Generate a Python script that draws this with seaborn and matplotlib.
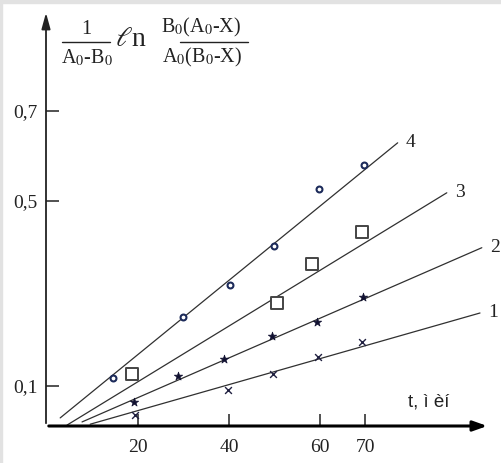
import numpy as np
import pandas as pd
import matplotlib
matplotlib.use("Agg")
import matplotlib.pyplot as plt
import seaborn as sns
from matplotlib.lines import Line2D
from matplotlib.patches import Rectangle

# ---- data ----
t1 = [19.3, 39.8, 49.7, 59.6, 69.2]
y1 = [0.024, 0.080, 0.116, 0.153, 0.187]
t2 = [19.1, 28.8, 38.9, 49.5, 59.3, 69.5]
y2 = [0.053, 0.111, 0.149, 0.200, 0.231, 0.287]
t3 = [18.7, 50.5, 58.2, 69.2]
y3 = [0.116, 0.273, 0.360, 0.431]
t4 = [14.5, 29.9, 40.2, 49.9, 59.8, 69.7]
y4 = [0.107, 0.242, 0.313, 0.400, 0.527, 0.580]

# straight lines drawn through each series (start / end)
line_t = {"1": [9.5, 95.2], "2": [7.7, 95.6], "3": [4.4, 87.9], "4": [2.9, 77.1]}
line_y = {"1": [0.004, 0.251], "2": [0.009, 0.396], "3": [0.002, 0.518], "4": [0.018, 0.629]}
curve_labels = ["1", "2", "3", "4"]

xtick_vals = [20, 40, 60, 70]
xtick_labels = ["20", "40", "60", "70"]
ytick_vals = [0.089, 0.5, 0.7]
ytick_labels = ["0,1", "0,5", "0,7"]
xlabel = "t, ì èí"

sns.set_theme(style="white")
plt.rcParams["font.family"] = ["Liberation Serif", "DejaVu Serif"]
plt.rcParams["mathtext.fontset"] = "stix"

W, H = 501, 463
fig = plt.figure(figsize=(W / 100, H / 100), dpi=100)
fig.patch.set_facecolor("white")
# light grey frame on top and left edges
fig.patches.append(Rectangle((0, 1 - 3 / H), 1, 3 / H, transform=fig.transFigure,
                             color="#e2e2e2", zorder=0))
fig.patches.append(Rectangle((0, 0), 2 / W, 1, transform=fig.transFigure,
                             color="#e2e2e2", zorder=0))

# axes in pixel terms: left 46, right 490, top 10, bottom 426
ax = fig.add_axes([46 / W, (H - 426) / H, (490 - 46) / W, (426 - 10) / H])
ax.set_facecolor("white")
ax.set_xlim(-0.22, 97.4)
ax.set_ylim(0, 0.924)
for s in ax.spines.values():
    s.set_visible(False)

lc = "#303030"
for k in curve_labels:
    df = pd.DataFrame({"t": line_t[k], "y": line_y[k]})
    sns.lineplot(data=df, x="t", y="y", ax=ax, color=lc, lw=0.9, sort=False)

d1 = pd.DataFrame({"t": t1, "y": y1})
d2 = pd.DataFrame({"t": t2, "y": y2})
d3 = pd.DataFrame({"t": t3, "y": y3})
d4 = pd.DataFrame({"t": t4, "y": y4})
sns.scatterplot(data=d1, x="t", y="y", ax=ax, marker="x", s=24, color="#202040",
                linewidth=1.0, zorder=5)
sns.scatterplot(data=d2, x="t", y="y", ax=ax, marker="*", s=40, color="#101030",
                edgecolor="#101030", linewidth=0.5, zorder=5)
sns.scatterplot(data=d3, x="t", y="y", ax=ax, marker="s", s=78, facecolor="white",
                edgecolor="#444444", linewidth=1.4, zorder=5)
sns.scatterplot(data=d4, x="t", y="y", ax=ax, marker="o", s=18, facecolor="white",
                edgecolor="#1c2a5a", linewidth=1.5, zorder=5)

# curve number labels
for k in curve_labels:
    ax.text(line_t[k][1] + 1.8, line_y[k][1], k, fontsize=14, color="#222222",
            ha="left", va="center")

# axes with arrows
ax.annotate("", xy=(1.0, 0), xytext=(0, 0), xycoords="axes fraction",
            arrowprops=dict(arrowstyle="-|>,head_length=0.7,head_width=0.25",
                            color="black", lw=2.2), annotation_clip=False)
ax.annotate("", xy=(0, 1.0), xytext=(0, 0), xycoords="axes fraction",
            arrowprops=dict(arrowstyle="-|>,head_length=0.8,head_width=0.22",
                            color="#222222", lw=1.3), annotation_clip=False)

ax.set_xticks(xtick_vals)
ax.set_xticklabels(xtick_labels)
ax.set_yticks(ytick_vals)
ax.set_yticklabels(ytick_labels)
ax.tick_params(axis="x", direction="in", length=9, width=1.1, color="#222222",
               labelsize=14, pad=9, labelcolor="#222222", bottom=True)
ax.tick_params(axis="y", direction="in", length=9, width=1.1, color="#222222",
               labelsize=14, pad=6, labelcolor="#222222", left=True)
ax.set_xlabel("")
ax.set_ylabel("")

ax.text(79.3, 0.053, xlabel, fontsize=13.5, family=["Liberation Sans", "DejaVu Sans"],
        color="#222222", ha="left", va="center")

# y-axis quantity written as formula
def fx(px):
    return px / W

def fy(py):
    return 1 - py / H

tc = "#222222"
fs = 14.5
fig.text(fx(86), fy(30), "1", fontsize=fs, ha="center", va="center", color=tc)
fig.lines.append(Line2D([fx(62), fx(110)], [fy(42), fy(42)], transform=fig.transFigure,
                        color=tc, lw=1.0))
fig.text(fx(87), fy(58), r"A$_0$-B$_0$", fontsize=fs, ha="center", va="center", color=tc)
fig.text(fx(131), fy(40), r"$\ell$n", fontsize=20, ha="center", va="center", color=tc)
fig.text(fx(201), fy(27), r"B$_0$(A$_0$-X)", fontsize=fs, ha="center", va="center", color=tc)
fig.lines.append(Line2D([fx(180), fx(248)], [fy(42), fy(42)], transform=fig.transFigure,
                        color=tc, lw=1.0))
fig.text(fx(202), fy(57), r"A$_0$(B$_0$-X)", fontsize=fs, ha="center", va="center", color=tc)

fig.savefig("out.png", dpi=100, facecolor="white")
